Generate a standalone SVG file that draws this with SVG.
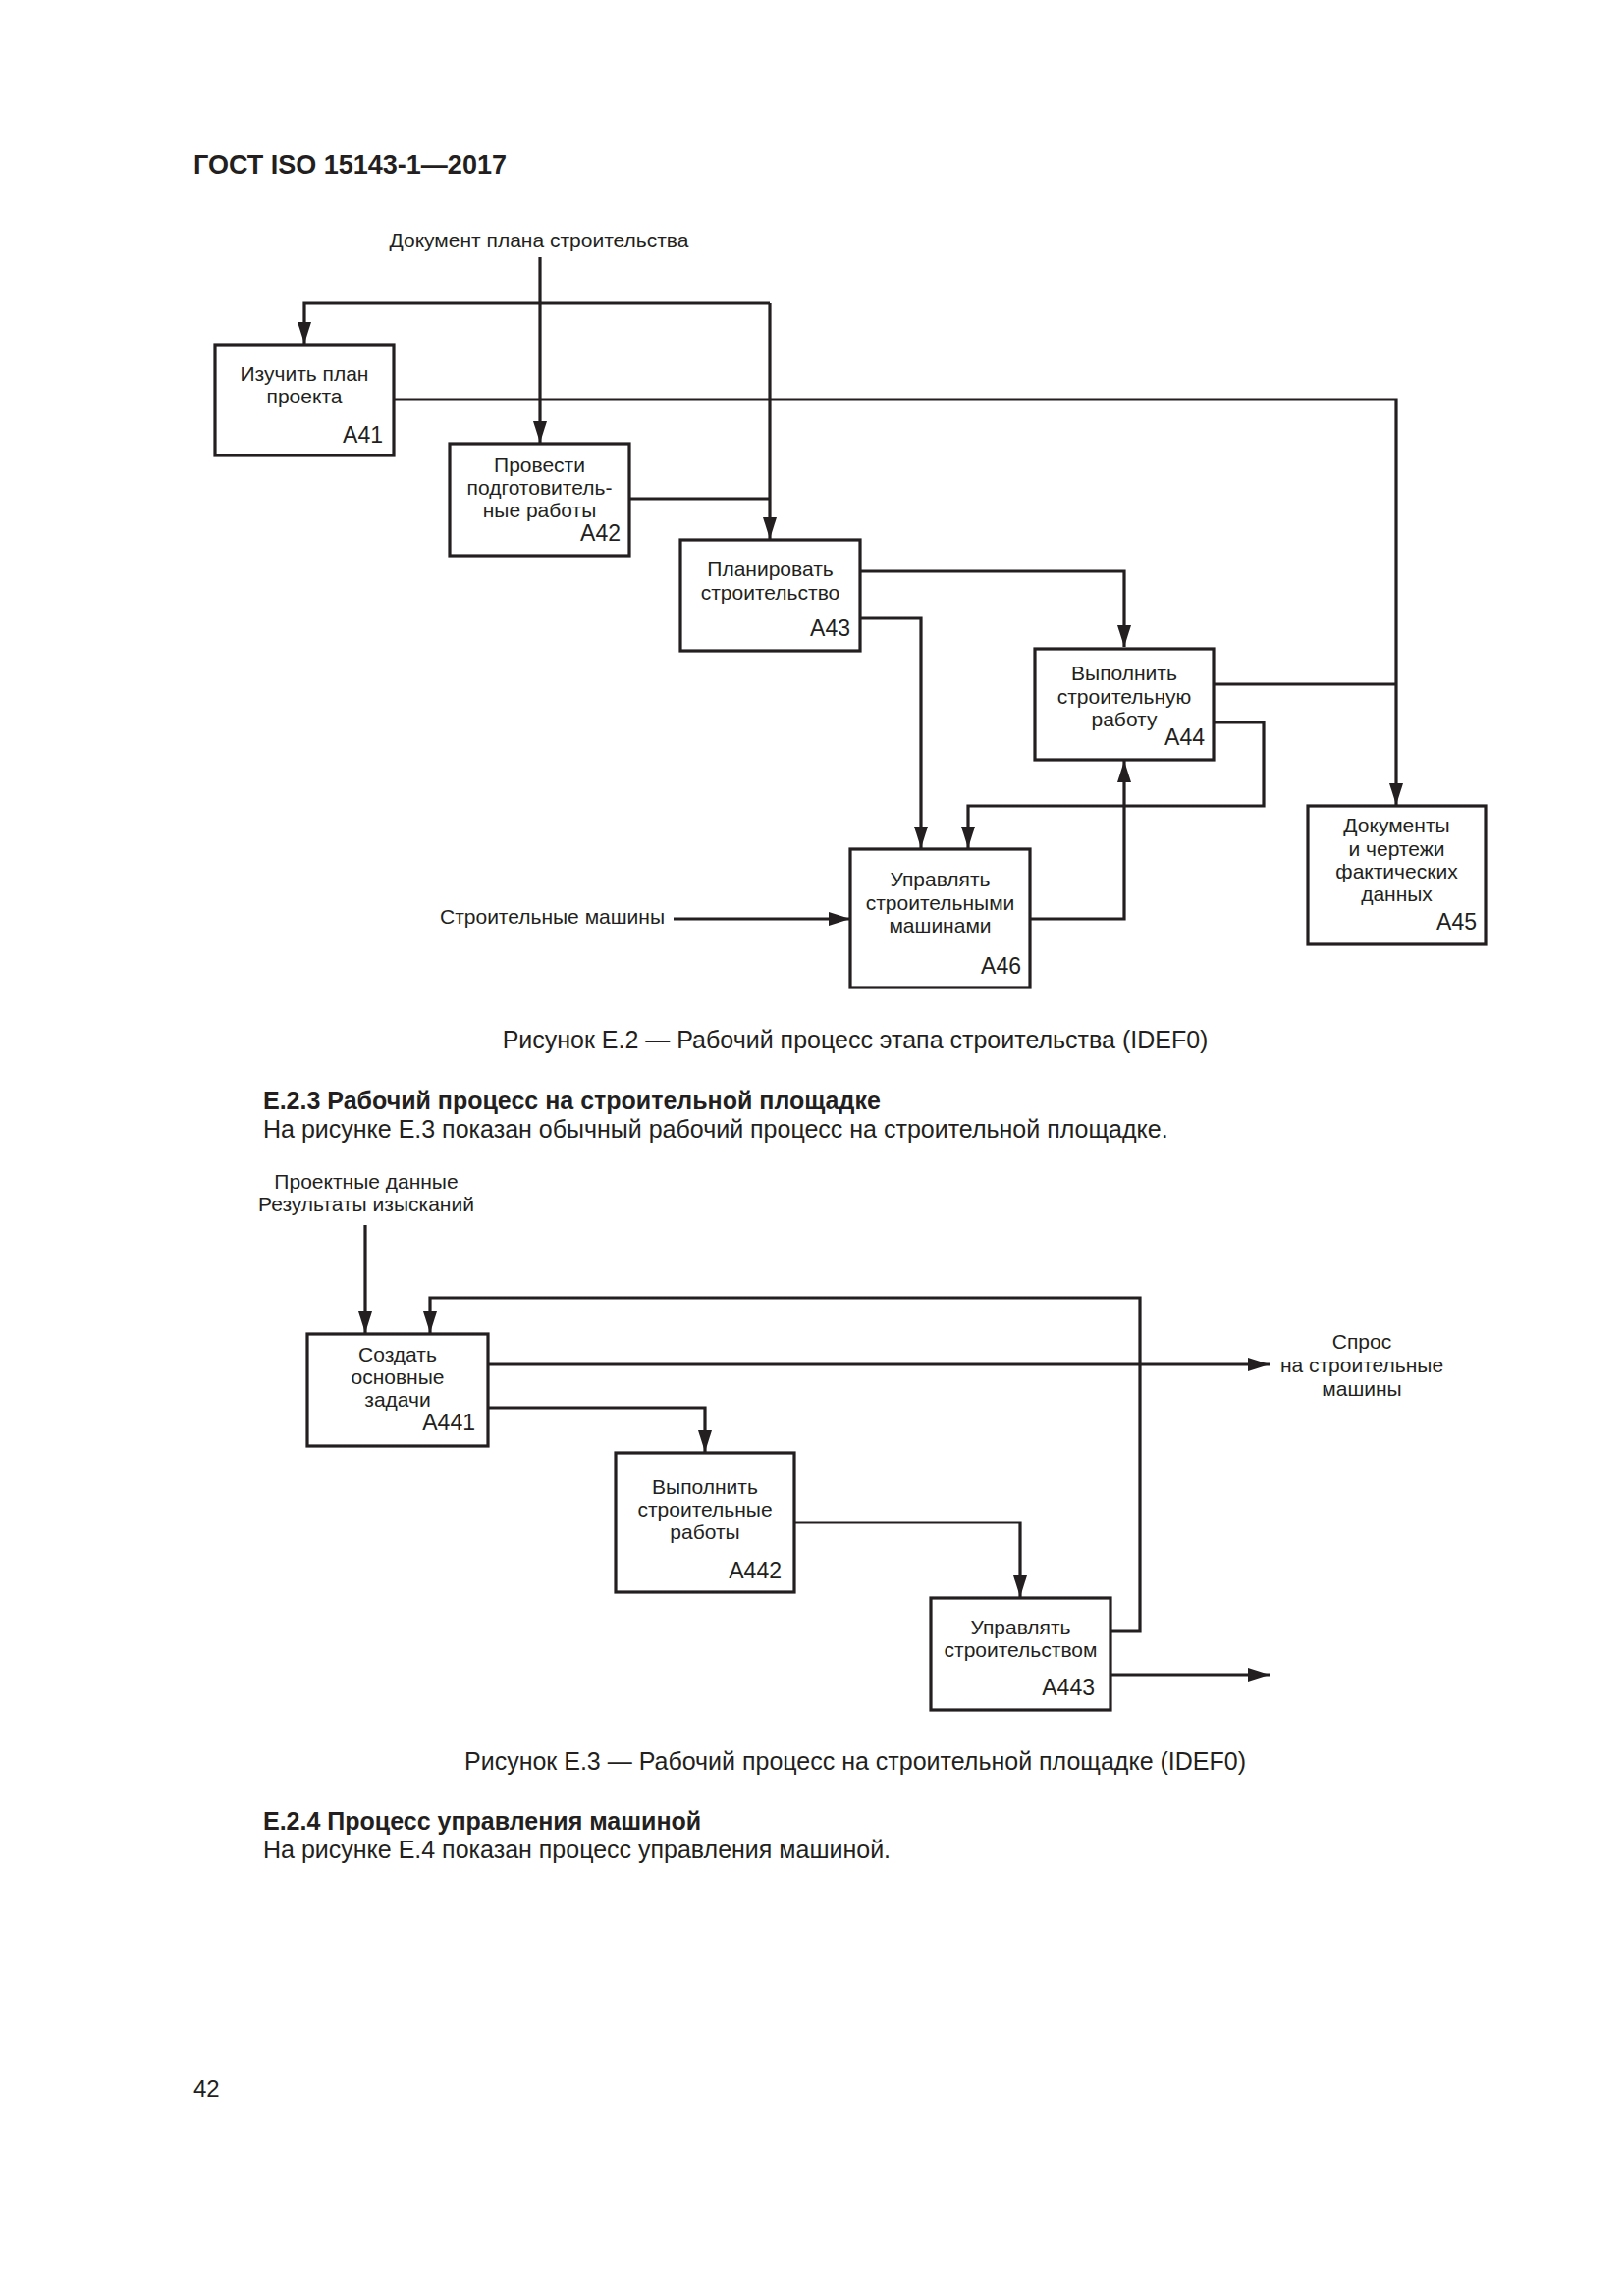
<svg xmlns="http://www.w3.org/2000/svg" width="1654" height="2339" viewBox="0 0 1654 2339">
<defs>
<style>
text{font-family:"Liberation Sans",Arial,Helvetica,sans-serif;fill:#231f20}
.t{font-size:21px;text-anchor:middle}
.tl{font-size:21px}
.id{font-size:23px;text-anchor:end}
.box{fill:#fff;stroke:#231f20;stroke-width:3.2}
.ln{fill:none;stroke:#231f20;stroke-width:3.2}
.ar{marker-end:url(#arr)}
.body{font-size:25px}
.bold{font-size:25px;font-weight:bold}
.cap{font-size:25px;text-anchor:middle}
</style>
<marker id="arr" markerUnits="userSpaceOnUse" markerWidth="22" markerHeight="14" viewBox="0 0 22 14" refX="22" refY="7" orient="auto">
<path d="M0,0 L22,7 L0,14 z" fill="#231f20"/>
</marker>
</defs>
<rect width="1654" height="2339" fill="#fff"/>

<text x="197" y="177" style="font-size:27px;font-weight:bold">ГОСТ ISO 15143-1—2017</text>

<g id="connectors">
<path class="ln ar" d="M550,262 V451"/>
<path class="ln" d="M641,508 H784"/>
<path class="ln ar" d="M784,309 V549"/>
<path class="ln ar" d="M784,309 H310 V350"/>
<path class="ln ar" d="M402,407 H1422 V820"/>
<path class="ln" d="M1236,697 H1422"/>
<path class="ln ar" d="M876,582 H1145 V659"/>
<path class="ln ar" d="M876,630 H938 V864"/>
<path class="ln ar" d="M1236,736 H1287 V821 H986 V864"/>
<path class="ln ar" d="M1049,936 H1145 V775"/>
<path class="ln ar" d="M686,936 H866"/>

<path class="ln ar" d="M372,1248 V1358"/>
<path class="ln ar" d="M1131,1662 H1161 V1322 H438 V1358"/>
<path class="ln ar" d="M497,1390 H1293"/>
<path class="ln ar" d="M497,1434 H718 V1479"/>
<path class="ln ar" d="M809,1551 H1039 V1627"/>
<path class="ln ar" d="M1131,1706 H1293"/>
</g>

<g id="labels-e2">
<text class="t" x="549" y="252">Документ плана строительства</text>
<text class="tl" x="448" y="941">Строительные машины</text>
</g>

<g id="A41">
<rect class="box" x="219" y="351" width="182" height="113"/>
<text class="t" x="310" y="388">Изучить план</text>
<text class="t" x="310" y="411">проекта</text>
<text class="id" x="390" y="451">A41</text>
</g>
<g id="A42">
<rect class="box" x="458" y="452" width="183" height="114"/>
<text class="t" x="549.5" y="481">Провести</text>
<text class="t" x="549.5" y="504">подготовитель-</text>
<text class="t" x="549.5" y="527">ные работы</text>
<text class="id" x="632" y="551">A42</text>
</g>
<g id="A43">
<rect class="box" x="693" y="550" width="183" height="113"/>
<text class="t" x="784.5" y="587">Планировать</text>
<text class="t" x="784.5" y="611">строительство</text>
<text class="id" x="866" y="648">A43</text>
</g>
<g id="A44">
<rect class="box" x="1054" y="661" width="182" height="113"/>
<text class="t" x="1145" y="693">Выполнить</text>
<text class="t" x="1145" y="717">строительную</text>
<text class="t" x="1145" y="740">работу</text>
<text class="id" x="1227" y="759">A44</text>
</g>
<g id="A45">
<rect class="box" x="1332" y="821" width="181" height="141"/>
<text class="t" x="1422.5" y="848">Документы</text>
<text class="t" x="1422.5" y="872">и чертежи</text>
<text class="t" x="1422.5" y="895">фактических</text>
<text class="t" x="1422.5" y="918">данных</text>
<text class="id" x="1504" y="947">A45</text>
</g>
<g id="A46">
<rect class="box" x="866" y="865" width="183" height="141"/>
<text class="t" x="957.5" y="903">Управлять</text>
<text class="t" x="957.5" y="927">строительными</text>
<text class="t" x="957.5" y="950">машинами</text>
<text class="id" x="1040" y="992">A46</text>
</g>

<text class="cap" x="871" y="1068">Рисунок Е.2 — Рабочий процесс этапа строительства (IDEF0)</text>
<text class="bold" x="268" y="1130">Е.2.3 Рабочий процесс на строительной площадке</text>
<text class="body" x="268" y="1159">На рисунке Е.3 показан обычный рабочий процесс на строительной площадке.</text>

<g id="labels-e3">
<text class="t" x="373" y="1211">Проектные данные</text>
<text class="t" x="373" y="1234">Результаты изысканий</text>
<text class="t" x="1387" y="1374">Спрос</text>
<text class="t" x="1387" y="1398">на строительные</text>
<text class="t" x="1387" y="1422">машины</text>
</g>

<g id="A441">
<rect class="box" x="313" y="1359" width="184" height="114"/>
<text class="t" x="405" y="1387">Создать</text>
<text class="t" x="405" y="1410">основные</text>
<text class="t" x="405" y="1433">задачи</text>
<text class="id" x="484" y="1457">A441</text>
</g>
<g id="A442">
<rect class="box" x="627" y="1480" width="182" height="142"/>
<text class="t" x="718" y="1522">Выполнить</text>
<text class="t" x="718" y="1545">строительные</text>
<text class="t" x="718" y="1568">работы</text>
<text class="id" x="796" y="1608">A442</text>
</g>
<g id="A443">
<rect class="box" x="948" y="1628" width="183" height="114"/>
<text class="t" x="1039.5" y="1665">Управлять</text>
<text class="t" x="1039.5" y="1688">строительством</text>
<text class="id" x="1115" y="1727">A443</text>
</g>

<text class="cap" x="871" y="1803">Рисунок Е.3 — Рабочий процесс на строительной площадке (IDEF0)</text>
<text class="bold" x="268" y="1864">Е.2.4 Процесс управления машиной</text>
<text class="body" x="268" y="1893">На рисунке Е.4 показан процесс управления машиной.</text>

<text x="197" y="2136" style="font-size:24px">42</text>
</svg>
